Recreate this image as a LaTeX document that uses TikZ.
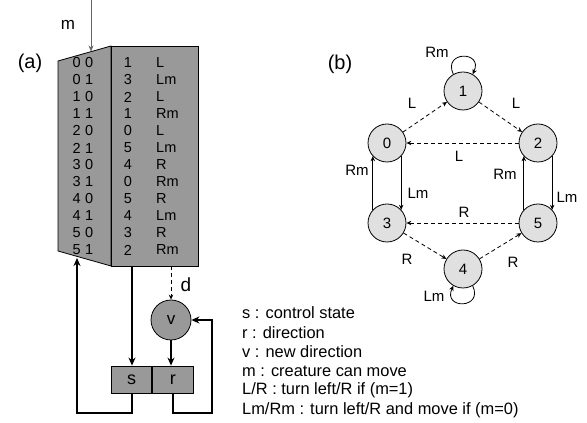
\documentclass[tikz,border=0pt]{standalone}
\usepackage{fontspec}
\setmainfont{Liberation Sans}
\usetikzlibrary{positioning, shapes, arrows, arrows.meta}

\begin{document}
\begin{tikzpicture}[x=1pt, y=1pt,
        cell/.style={inner sep=0pt, font=\fontsize{14.5}{16}\selectfont},
        legend/.style={anchor=west, inner sep=0pt, font=\fontsize{16.4}{18}\selectfont},
        statenode/.style={circle, draw, fill=black!12, line width=0.8pt, minimum size=38pt, inner sep=0pt, font=\fontsize{15}{16}\selectfont},
        lbl/.style={inner sep=0pt, font=\fontsize{15}{16}\selectfont},
        regbox/.style={draw, fill=black!40, line width=0.8pt, minimum width=40.5pt, minimum height=27pt, inner sep=0pt, font=\fontsize{18}{20}\selectfont},
        thinarrow/.style={-{Stealth[length=5pt,width=4.5pt]}, line width=0.8pt},
        thickarrow/.style={-{Stealth[length=8pt,width=7pt]}, line width=2pt},
        dashedarrow/.style={thinarrow, dash pattern=on 4pt off 3pt}
    ]
    \useasboundingbox (0,0) rectangle (587,423);
    % (a) table
    \node[font=\fontsize{20}{22}\selectfont] (alabel) at (30,360) {(a)};
    \draw[fill=black!40, line width=0.8pt] (58,362) -- (111,377) -- (111,157) -- (58,172) -- cycle;
    \draw[fill=black!40, line width=0.8pt] (111,157) rectangle (198,377);
    \foreach \cs/\cm/\ns/\dir [count=\i from 0] in {0/0/1/L, 0/1/3/Lm, 1/0/2/L, 1/1/1/Rm, 2/0/0/L, 2/1/5/Lm,
                                                 3/0/4/R, 3/1/0/Rm, 4/0/5/R, 4/1/4/Lm, 5/0/3/R, 5/1/2/Rm} {
        \node[cell] (in\i) at (83,360-17*\i) {\cs\hspace{4.5pt}\cm};
        \node[cell] (ns\i) at (128,360-17*\i) {\ns};
        \node[cell, anchor=west] (dir\i) at (156,360-17*\i) {\dir};
    }
    \coordinate (mtop) at (91,423);
    \coordinate (tabin) at (91,371.5);
    \coordinate (tabout) at (132,157);
    \coordinate (tabd) at (171,157);
    \coordinate (tabret) at (77,165);
    \coordinate (sloop) at (77,10);
    \coordinate (rloop) at (212,10);
    \node[font=\fontsize{17}{18}\selectfont] (mlabel) at (68,398) {m};
    \draw[-{Stealth[length=6pt,width=5pt]}, line width=1pt, black!60] (mtop) -- (tabin);

    \node[circle, draw, fill=black!40, line width=0.8pt, minimum size=40pt, inner sep=0pt, font=\fontsize{17}{18}\selectfont] (v) at (171,103) {v};
    \node[regbox] (s) at (131.5,43.5) {s};
    \node[regbox, right=0pt of s] (r) {r};

    \draw[thickarrow] (tabout) -- (tabout |- s.north);
    \draw[dashedarrow, line width=1pt] (tabd) -- (v.north);
    \node[font=\fontsize{19}{20}\selectfont] (dlabel) at (186,138) {d};
    \draw[thickarrow] (v.south) -- (v.south |- r.north);
    \draw[thickarrow] (s.south) |- (sloop) -- (tabret);
    \draw[thickarrow] (r.south) |- (rloop) |- (v.east);

    % legend
    \node[legend] (leg1) at (242,110) {s : control state};
    \node[legend] (leg2) at (242,90) {r : direction};
    \node[legend] (leg3) at (242,71) {v : new direction};
    \node[legend] (leg4) at (242,52) {m : creature can move};
    \node[legend] (leg5) at (242,33) {L/R : turn left/R if (m=1)};
    \node[legend] (leg6) at (242,13) {Lm/Rm : turn left/R and move if (m=0)};

    % (b) state graph
    \node[font=\fontsize{20}{22}\selectfont] (blabel) at (340,359) {(b)};
    \node[statenode] (s1) at (463,332) {1};
    \node[statenode] (s0) at (387,280) {0};
    \node[statenode] (s2) at (538,280) {2};
    \node[statenode] (s3) at (387,200) {3};
    \node[statenode] (s5) at (538,200) {5};
    \node[statenode] (s4) at (463,154) {4};

    \draw[dashedarrow] (s0) -- (s1);
    \draw[dashedarrow] (s1) -- (s2);
    \draw[dashedarrow] (s2) -- (s0);
    \draw[dashedarrow] (s5) -- (s3);
    \draw[dashedarrow] (s3) -- (s4);
    \draw[dashedarrow] (s4) -- (s5);
    \draw[thinarrow] (s0.-43) -- (s3.43);
    \draw[thinarrow] (s3.137) -- (s0.223);
    \draw[thinarrow] (s2.-43) -- (s5.43);
    \draw[thinarrow] (s5.137) -- (s2.223);
    \draw[thinarrow] (s1.120) .. controls +(115:26) and +(65:26) .. (s1.60);
    \draw[thinarrow] (s4.-60) .. controls +(-65:26) and +(-115:26) .. (s4.-120);

    \node[lbl] (l11) at (437,371) {Rm};
    \node[lbl] (l01) at (412,320) {L};
    \node[lbl] (l12) at (516,320) {L};
    \node[lbl] (l20) at (459,267) {L};
    \node[lbl] (l30) at (357,253) {Rm};
    \node[lbl] (l03) at (418,230) {Lm};
    \node[lbl] (l52) at (505,249) {Rm};
    \node[lbl] (l25) at (567,226) {Lm};
    \node[lbl] (l53) at (464,211) {R};
    \node[lbl] (l34) at (407,164) {R};
    \node[lbl] (l45) at (513,161) {R};
    \node[lbl] (l44) at (434,127) {Lm};
\end{tikzpicture}
\end{document}
